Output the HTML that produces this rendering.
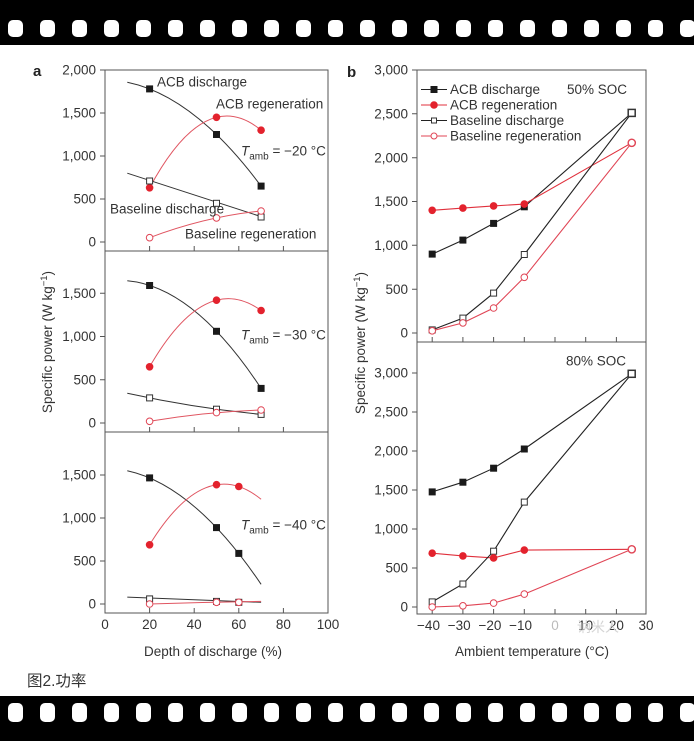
<!DOCTYPE html>
<html><head><meta charset="utf-8"><style>
html,body{margin:0;padding:0;background:#fff;}
svg{display:block;}
text{font-family:"Liberation Sans","Noto Sans CJK SC",sans-serif;fill:#333;}
</style></head><body>
<svg width="694" height="741" viewBox="0 0 694 741" xmlns="http://www.w3.org/2000/svg">
<rect x="0" y="0" width="694" height="741" fill="#fff"/>
<!-- film strips -->
<rect x="0" y="0" width="694" height="45" fill="#000"/>
<rect x="0" y="696" width="694" height="45" fill="#000"/>
<g fill="#fff">
<rect x="8" y="20" width="15" height="17" rx="5"/><rect x="40" y="20" width="15" height="17" rx="5"/><rect x="72" y="20" width="15" height="17" rx="5"/><rect x="104" y="20" width="15" height="17" rx="5"/><rect x="136" y="20" width="15" height="17" rx="5"/><rect x="168" y="20" width="15" height="17" rx="5"/><rect x="200" y="20" width="15" height="17" rx="5"/><rect x="232" y="20" width="15" height="17" rx="5"/><rect x="264" y="20" width="15" height="17" rx="5"/><rect x="296" y="20" width="15" height="17" rx="5"/><rect x="328" y="20" width="15" height="17" rx="5"/><rect x="360" y="20" width="15" height="17" rx="5"/><rect x="392" y="20" width="15" height="17" rx="5"/><rect x="424" y="20" width="15" height="17" rx="5"/><rect x="456" y="20" width="15" height="17" rx="5"/><rect x="488" y="20" width="15" height="17" rx="5"/><rect x="520" y="20" width="15" height="17" rx="5"/><rect x="552" y="20" width="15" height="17" rx="5"/><rect x="584" y="20" width="15" height="17" rx="5"/><rect x="616" y="20" width="15" height="17" rx="5"/><rect x="648" y="20" width="15" height="17" rx="5"/><rect x="680" y="20" width="15" height="17" rx="5"/>
<rect x="8" y="703" width="15" height="19" rx="5"/><rect x="40" y="703" width="15" height="19" rx="5"/><rect x="72" y="703" width="15" height="19" rx="5"/><rect x="104" y="703" width="15" height="19" rx="5"/><rect x="136" y="703" width="15" height="19" rx="5"/><rect x="168" y="703" width="15" height="19" rx="5"/><rect x="200" y="703" width="15" height="19" rx="5"/><rect x="232" y="703" width="15" height="19" rx="5"/><rect x="264" y="703" width="15" height="19" rx="5"/><rect x="296" y="703" width="15" height="19" rx="5"/><rect x="328" y="703" width="15" height="19" rx="5"/><rect x="360" y="703" width="15" height="19" rx="5"/><rect x="392" y="703" width="15" height="19" rx="5"/><rect x="424" y="703" width="15" height="19" rx="5"/><rect x="456" y="703" width="15" height="19" rx="5"/><rect x="488" y="703" width="15" height="19" rx="5"/><rect x="520" y="703" width="15" height="19" rx="5"/><rect x="552" y="703" width="15" height="19" rx="5"/><rect x="584" y="703" width="15" height="19" rx="5"/><rect x="616" y="703" width="15" height="19" rx="5"/><rect x="648" y="703" width="15" height="19" rx="5"/><rect x="680" y="703" width="15" height="19" rx="5"/>
</g>

<!-- panel labels -->
<text x="33" y="76" font-size="15" font-weight="bold" style="fill:#222">a</text>
<text x="347" y="77" font-size="15" font-weight="bold" style="fill:#222">b</text>

<!-- ===== Panel a frames ===== -->
<g stroke="#555" stroke-width="1" fill="none">
<rect x="105" y="70" width="223" height="543"/>
<line x1="105" y1="251" x2="328" y2="251"/>
<line x1="105" y1="432" x2="328" y2="432"/>
<!-- y ticks -->
<path d="M100 242H105M100 199H105M100 156H105M100 113H105M100 70H105"/>
<path d="M100 423H105M100 379.7H105M100 336.5H105M100 293.2H105"/>
<path d="M100 604H105M100 561H105M100 518H105M100 475H105"/>
<!-- x ticks (inward) -->
<path d="M149.6 251V246M194.2 251V246M238.8 251V246M283.4 251V246"/>
<path d="M149.6 432V427M194.2 432V427M238.8 432V427M283.4 432V427"/>
<path d="M149.6 613V608M194.2 613V608M238.8 613V608M283.4 613V608"/>
</g>
<g font-size="13.5" text-anchor="end">
<text x="96" y="246.7">0</text><text x="96" y="203.7">500</text><text x="96" y="160.7">1,000</text><text x="96" y="117.7">1,500</text><text x="96" y="74.7">2,000</text>
<text x="96" y="427.7">0</text><text x="96" y="384.4">500</text><text x="96" y="341.2">1,000</text><text x="96" y="297.9">1,500</text>
<text x="96" y="608.7">0</text><text x="96" y="565.7">500</text><text x="96" y="522.7">1,000</text><text x="96" y="479.7">1,500</text>
</g>
<g font-size="13.5" text-anchor="middle">
<text x="105" y="629">0</text><text x="149.6" y="629">20</text><text x="194.2" y="629">40</text><text x="238.8" y="629">60</text><text x="283.4" y="629">80</text><text x="328" y="629">100</text>
<text x="213" y="656">Depth of discharge (%)</text>
</g>
<text transform="translate(52,342) rotate(-90)" font-size="13.5" text-anchor="middle">Specific power (W kg<tspan dy="-5" font-size="9.5">−1</tspan><tspan dy="5">)</tspan></text>

<!-- Panel a1 curves -->
<g fill="none" stroke-width="1">
<path d="M127.3 82.2Q194.2 96 261.1 186.1" stroke="#333"/>
<path d="M149.6 187.8Q205.4 84.1 261.1 130.2" stroke="#e05561"/>
<path d="M127.3 173.2L261.1 216.6" stroke="#333"/>
<path d="M149.6 237.7Q205.4 216.5 261.1 211" stroke="#e05561"/>
<!-- a2 -->
<path d="M127.3 280.8Q194.2 286.8 261.1 388.4" stroke="#333"/>
<path d="M149.6 366.8Q205.4 270.2 261.1 310.5" stroke="#e05561"/>
<path d="M127.3 393.2Q194.2 407.9 261.1 414.4" stroke="#333"/>
<path d="M149.6 421.3Q205.4 411.7 261.1 410" stroke="#e05561"/>
<!-- a3 -->
<path d="M127.3 470.7Q194.2 485.3 261.1 584.3" stroke="#333"/>
<path d="M149.6 544.8Q205.4 453.8 261.1 499.3" stroke="#e05561"/>
<path d="M127.3 597.1L261.1 602.3" stroke="#333"/>
<path d="M149.6 604Q205.4 602 261.1 601.4" stroke="#e05561"/>
</g>
<!-- markers a -->
<g fill="#1a1a1a">
<rect x="146.1" y="85.4" width="7" height="7"/><rect x="213" y="131" width="7" height="7"/><rect x="257.6" y="182.6" width="7" height="7"/>
<rect x="146.1" y="282" width="7" height="7"/><rect x="213" y="327.8" width="7" height="7"/><rect x="257.6" y="384.9" width="7" height="7"/>
<rect x="146.1" y="474.4" width="7" height="7"/><rect x="213" y="524.1" width="7" height="7"/><rect x="235.3" y="549.9" width="7" height="7"/>
</g>
<g fill="#e3222d">
<circle cx="149.6" cy="187.8" r="3.8"/><circle cx="216.5" cy="117.3" r="3.8"/><circle cx="261.1" cy="130.2" r="3.8"/>
<circle cx="149.6" cy="366.8" r="3.8"/><circle cx="216.5" cy="300.2" r="3.8"/><circle cx="261.1" cy="310.5" r="3.8"/>
<circle cx="149.6" cy="544.8" r="3.8"/><circle cx="216.5" cy="484.7" r="3.8"/><circle cx="238.8" cy="486.5" r="3.8"/>
</g>
<g fill="#fff" stroke="#333" stroke-width="1">
<rect x="146.6" y="178" width="6" height="6"/><rect x="213.5" y="200.3" width="6" height="6"/><rect x="258.1" y="214" width="6" height="6"/>
<rect x="146.6" y="394.9" width="6" height="6"/><rect x="213.5" y="406.2" width="6" height="6"/><rect x="258.1" y="411.4" width="6" height="6"/>
<rect x="146.6" y="595.9" width="6" height="6"/><rect x="213.5" y="598.4" width="6" height="6"/><rect x="235.8" y="599.3" width="6" height="6"/>
</g>
<g fill="#fff" stroke="#e04555" stroke-width="1">
<circle cx="149.6" cy="237.7" r="3.3"/><circle cx="216.5" cy="217.9" r="3.3"/><circle cx="261.1" cy="211" r="3.3"/>
<circle cx="149.6" cy="421.3" r="3.3"/><circle cx="216.5" cy="412.6" r="3.3"/><circle cx="261.1" cy="410" r="3.3"/>
<circle cx="149.6" cy="604" r="3.3"/><circle cx="216.5" cy="602.3" r="3.3"/><circle cx="238.8" cy="602.3" r="3.3"/>
</g>
<!-- panel a annotations -->
<g font-size="13.5">
<text x="157" y="86.7">ACB discharge</text>
<text x="216" y="108.7">ACB regeneration</text>
<text x="110" y="213.7">Baseline discharge</text>
<text x="185" y="238.7">Baseline regeneration</text>
<text x="241" y="155.7"><tspan font-style="italic">T</tspan><tspan font-size="10" dy="4">amb</tspan><tspan dy="-4"> = −20 °C</tspan></text>
<text x="241" y="339.7"><tspan font-style="italic">T</tspan><tspan font-size="10" dy="4">amb</tspan><tspan dy="-4"> = −30 °C</tspan></text>
<text x="241" y="529.7"><tspan font-style="italic">T</tspan><tspan font-size="10" dy="4">amb</tspan><tspan dy="-4"> = −40 °C</tspan></text>
</g>

<!-- ===== Panel b ===== -->
<g stroke="#555" stroke-width="1" fill="none">
<rect x="417" y="70" width="229" height="544"/>
<line x1="417" y1="342" x2="646" y2="342"/>
<path d="M412 333H417M412 289.2H417M412 245.3H417M412 201.5H417M412 157.7H417M412 113.8H417M412 70H417"/>
<path d="M412 607H417M412 568H417M412 529H417M412 490H417M412 451H417M412 412H417M412 373H417"/>
<path d="M432.2 342V337M462.9 342V337M493.6 342V337M524.3 342V337M555 342V337M585.7 342V337M616.4 342V337"/>
<path d="M432.2 614V609M462.9 614V609M493.6 614V609M524.3 614V609M555 614V609M585.7 614V609M616.4 614V609"/>
</g>
<g font-size="13.5" text-anchor="end">
<text x="408" y="337.7">0</text><text x="408" y="293.9">500</text><text x="408" y="250">1,000</text><text x="408" y="206.2">1,500</text><text x="408" y="162.4">2,000</text><text x="408" y="118.5">2,500</text><text x="408" y="74.7">3,000</text>
<text x="408" y="611.7">0</text><text x="408" y="572.7">500</text><text x="408" y="533.7">1,000</text><text x="408" y="494.7">1,500</text><text x="408" y="455.7">2,000</text><text x="408" y="416.7">2,500</text><text x="408" y="377.7">3,000</text>
</g>
<g font-size="13.5" text-anchor="middle">
<text x="428.5" y="630">−40</text><text x="459.2" y="630">−30</text><text x="489.9" y="630">−20</text><text x="520.6" y="630">−10</text>
<text x="555" y="630" style="fill:#bbb">0</text><text x="585.7" y="630">10</text><text x="616.4" y="630">20</text><text x="646" y="630">30</text>
<text x="532" y="656">Ambient temperature (°C)</text>
</g>
<text x="598" y="632" font-size="14" style="fill:#d4d4d4" text-anchor="middle">讷米人</text>
<text transform="translate(365,343) rotate(-90)" font-size="13.5" text-anchor="middle">Specific power (W kg<tspan dy="-5" font-size="9.5">−1</tspan><tspan dy="5">)</tspan></text>

<!-- b top lines -->
<g fill="none" stroke-width="1.1">
<polyline points="432.2,254.1 462.9,240.1 493.6,223.4 524.3,206.8 631.75,112.9" stroke="#222"/>
<polyline points="432.2,210.3 462.9,208.1 493.6,205.9 524.3,204.1 631.75,142.8" stroke="#e0303c"/>
<polyline points="432.2,329.9 462.9,318.1 493.6,293.1 524.3,254.5 631.75,112.9" stroke="#222"/>
<polyline points="432.2,330.8 462.9,322.9 493.6,308 524.3,277.3 631.75,142.8" stroke="#e04555"/>
<!-- b bottom lines -->
<polyline points="432.2,491.9 462.9,482.2 493.6,468.2 524.3,449 631.75,373.8" stroke="#222"/>
<polyline points="432.2,553.2 462.9,555.9 493.6,557.9 524.3,550.1 631.75,549.3" stroke="#e0303c"/>
<polyline points="432.2,601.9 462.9,584 493.6,551.2 524.3,502.1 631.75,373.8" stroke="#222"/>
<polyline points="432.2,607 462.9,605.8 493.6,603.1 524.3,594.1 631.75,549.3" stroke="#e04555"/>
</g>
<!-- b markers -->
<g fill="#fff" stroke="#333" stroke-width="1">
<rect x="429.2" y="326.9" width="6" height="6"/><rect x="459.9" y="315.1" width="6" height="6"/><rect x="490.6" y="290.1" width="6" height="6"/><rect x="521.3" y="251.5" width="6" height="6"/><rect x="628.2" y="109.4" width="7" height="7" stroke-width="1.5"/>
<rect x="429.2" y="598.9" width="6" height="6"/><rect x="459.9" y="581" width="6" height="6"/><rect x="490.6" y="548.2" width="6" height="6"/><rect x="521.3" y="499.1" width="6" height="6"/><rect x="628.2" y="370.3" width="7" height="7" stroke-width="1.5"/>
</g>
<g fill="#fff" stroke="#e04555" stroke-width="1">
<circle cx="432.2" cy="330.8" r="3.3"/><circle cx="462.9" cy="322.9" r="3.3"/><circle cx="493.6" cy="308" r="3.3"/><circle cx="524.3" cy="277.3" r="3.3"/><circle cx="631.75" cy="142.8" r="3.6" stroke-width="1.4"/>
<circle cx="432.2" cy="607" r="3.3"/><circle cx="462.9" cy="605.8" r="3.3"/><circle cx="493.6" cy="603.1" r="3.3"/><circle cx="524.3" cy="594.1" r="3.3"/><circle cx="631.75" cy="549.3" r="3.6" stroke-width="1.4"/>
</g>
<g fill="#1a1a1a">
<rect x="428.7" y="250.6" width="7" height="7"/><rect x="459.4" y="236.6" width="7" height="7"/><rect x="490.1" y="219.9" width="7" height="7"/><rect x="520.8" y="203.3" width="7" height="7"/>
<rect x="428.7" y="488.4" width="7" height="7"/><rect x="459.4" y="478.7" width="7" height="7"/><rect x="490.1" y="464.7" width="7" height="7"/><rect x="520.8" y="445.5" width="7" height="7"/>
</g>
<g fill="#e3222d">
<circle cx="432.2" cy="210.3" r="3.8"/><circle cx="462.9" cy="208.1" r="3.8"/><circle cx="493.6" cy="205.9" r="3.8"/><circle cx="524.3" cy="204.1" r="3.8"/>
<circle cx="432.2" cy="553.2" r="3.8"/><circle cx="462.9" cy="555.9" r="3.8"/><circle cx="493.6" cy="557.9" r="3.8"/><circle cx="524.3" cy="550.1" r="3.8"/>
</g>
<!-- legend -->
<g stroke-width="1.1">
<line x1="421" y1="89.5" x2="447" y2="89.5" stroke="#222"/>
<rect x="430.5" y="86" width="7" height="7" fill="#1a1a1a"/>
<line x1="421" y1="105" x2="447" y2="105" stroke="#e0303c"/>
<circle cx="434" cy="105" r="3.8" fill="#e3222d" stroke="none"/>
<line x1="421" y1="120.5" x2="447" y2="120.5" stroke="#222"/>
<rect x="431.5" y="118" width="5" height="5" fill="#fff" stroke="#333" stroke-width="1"/>
<line x1="421" y1="136" x2="447" y2="136" stroke="#e04555"/>
<circle cx="434" cy="136" r="3" fill="#fff" stroke="#e04555" stroke-width="1"/>
</g>
<g font-size="13.5">
<text x="450" y="94.2">ACB discharge</text>
<text x="450" y="109.7">ACB regeneration</text>
<text x="450" y="125.2">Baseline discharge</text>
<text x="450" y="140.7">Baseline regeneration</text>
<text x="567" y="94.2">50% SOC</text>
<text x="566" y="365.7">80% SOC</text>
</g>

<!-- caption -->
<text x="27" y="686" font-size="15.5" style="fill:#333">图2.功率</text>
</svg>
</body></html>
